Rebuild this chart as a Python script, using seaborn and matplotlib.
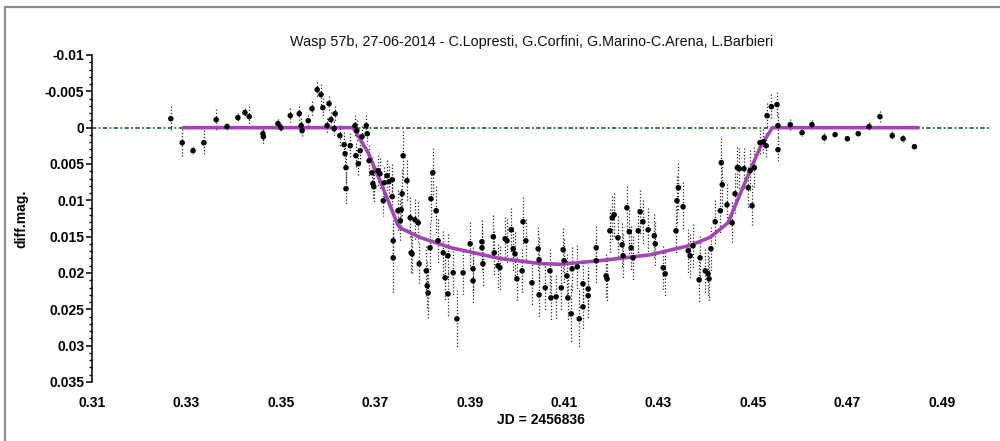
import numpy as np
import matplotlib
matplotlib.use("Agg")
import matplotlib.pyplot as plt
from matplotlib.lines import Line2D
from matplotlib.ticker import MultipleLocator
import seaborn as sns

# Observed differential photometry (JD - 2456836), with 1-sigma errors
jd = [
    0.3267, 0.3291, 0.3314, 0.3337, 0.3363, 0.3386, 0.3409, 0.3424, 0.3433, 0.3462,
    0.3463, 0.3494, 0.3500, 0.3520, 0.3539, 0.3543, 0.3545, 0.3558, 0.3566, 0.3577,
    0.3585, 0.3589, 0.3598, 0.3602, 0.3606, 0.3613, 0.3615, 0.3625, 0.3634, 0.3636,
    0.3638, 0.3638, 0.3647, 0.3657, 0.3659, 0.3661, 0.3664, 0.3668, 0.3672, 0.3681,
    0.3683, 0.3687, 0.3693, 0.3695, 0.3697, 0.3706, 0.3710, 0.3717, 0.3719, 0.3725,
    0.3729, 0.3736, 0.3736, 0.3738, 0.3738, 0.3748, 0.3753, 0.3755, 0.3757, 0.3759,
    0.3767, 0.3774, 0.3776, 0.3778, 0.3784, 0.3791, 0.3793, 0.3808, 0.3810, 0.3812,
    0.3816, 0.3818, 0.3822, 0.3829, 0.3833, 0.3844, 0.3848, 0.3854, 0.3854, 0.3865,
    0.3873, 0.3886, 0.3901, 0.3907, 0.3907, 0.3926, 0.3926, 0.3928, 0.3950, 0.3952,
    0.3960, 0.3964, 0.3975, 0.3979, 0.3988, 0.3992, 0.3996, 0.4000, 0.4011, 0.4013,
    0.4019, 0.4032, 0.4045, 0.4047, 0.4047, 0.4060, 0.4070, 0.4072, 0.4083, 0.4094,
    0.4098, 0.4100, 0.4106, 0.4108, 0.4115, 0.4117, 0.4128, 0.4132, 0.4140, 0.4140,
    0.4151, 0.4151, 0.4168, 0.4168, 0.4189, 0.4191, 0.4197, 0.4202, 0.4206, 0.4214,
    0.4223, 0.4225, 0.4233, 0.4238, 0.4242, 0.4246, 0.4257, 0.4261, 0.4267, 0.4278,
    0.4291, 0.4293, 0.4310, 0.4314, 0.4337, 0.4339, 0.4342, 0.4352, 0.4363, 0.4367,
    0.4373, 0.4386, 0.4388, 0.4399, 0.4405, 0.4407, 0.4411, 0.4420, 0.4431, 0.4433,
    0.4435, 0.4445, 0.4456, 0.4462, 0.4467, 0.4471, 0.4481, 0.4490, 0.4494, 0.4498,
    0.4503, 0.4515, 0.4522, 0.4528, 0.4530, 0.4539, 0.4551, 0.4553, 0.4553, 0.4579,
    0.4604, 0.4625, 0.4651, 0.4674, 0.4700, 0.4723, 0.4746, 0.4769, 0.4795, 0.4818,
    0.4842,
]
diff_mag = [
    -0.00124, 0.00207, 0.00317, 0.00207, -0.00110, -0.00014, -0.00138, -0.00207, -0.00152, 0.00083,
    0.00124, -0.00055, 0.00000, -0.00165, -0.00193, -0.00028, 0.00041, -0.00096, -0.00262, -0.00523,
    -0.00455, -0.00275, -0.00028, -0.00331, -0.00110, 0.00014, -0.00193, 0.00110, 0.00234, 0.00358,
    0.00551, 0.00840, 0.00248, -0.00028, 0.00386, 0.00041, 0.00496, 0.00317, 0.00124, -0.00028,
    0.00083, 0.00455, 0.00620, 0.00771, 0.00813, 0.00592, 0.00634, 0.01006, 0.00758, 0.00661,
    0.00744, 0.00716, 0.00950, 0.01556, 0.01791, 0.01143, 0.01281, 0.01129, 0.00909, 0.00386,
    0.00730, 0.01240, 0.01722, 0.01736, 0.01267, 0.01309, 0.01873, 0.01970, 0.02176, 0.02273,
    0.01653, 0.00978, 0.00620, 0.01143, 0.01556, 0.01722, 0.02066, 0.01763, 0.02287, 0.01997,
    0.02631, 0.01997, 0.01598, 0.02107, 0.01942, 0.01570, 0.01653, 0.01873, 0.01501, 0.01722,
    0.01901, 0.01928, 0.01529, 0.01556, 0.01405, 0.01667, 0.01736, 0.02080, 0.01970, 0.01295,
    0.01556, 0.02135, 0.01667, 0.01818, 0.02300, 0.02204, 0.01970, 0.02342, 0.02328, 0.02204,
    0.01680, 0.01832, 0.02039, 0.02342, 0.02562, 0.01942, 0.01915, 0.02631, 0.02149, 0.02466,
    0.02218, 0.02314, 0.01653, 0.01832, 0.02039, 0.02080, 0.01419, 0.01240, 0.01198, 0.01515,
    0.01612, 0.01763, 0.01102, 0.01432, 0.01653, 0.01791, 0.01419, 0.01157, 0.01295, 0.01405,
    0.01488, 0.01598, 0.01928, 0.02011, 0.01419, 0.01006, 0.00826, 0.01088, 0.01694, 0.01763,
    0.01625, 0.02094, 0.01791, 0.01970, 0.02011, 0.02080, 0.01667, 0.01295, 0.01143, 0.00482,
    0.00785, 0.01061, 0.01309, 0.00909, 0.00551, 0.00565, 0.00565, 0.00826, 0.00592, 0.01074,
    0.00551, 0.00207, 0.00193, 0.00248, -0.00165, -0.00289, -0.00317, -0.00028, 0.00303, -0.00041,
    0.00069, -0.00041, 0.00138, 0.00096, 0.00152, 0.00083, -0.00014, -0.00152, 0.00110, 0.00152,
    0.00262,
]
mag_err = [
    0.0017, 0.0019, 0.0005, 0.0018, 0.0014, 0.0005, 0.0007, 0.0007, 0.0014, 0.0011,
    0.0011, 0.0006, 0.0006, 0.0010, 0.0011, 0.0010, 0.0008, 0.0008, 0.0010, 0.0011,
    0.0014, 0.0014, 0.0011, 0.0011, 0.0011, 0.0011, 0.0011, 0.0014, 0.0017, 0.0017,
    0.0021, 0.0021, 0.0017, 0.0014, 0.0017, 0.0014, 0.0017, 0.0017, 0.0014, 0.0014,
    0.0014, 0.0021, 0.0021, 0.0021, 0.0021, 0.0021, 0.0021, 0.0021, 0.0021, 0.0021,
    0.0021, 0.0021, 0.0021, 0.0028, 0.0048, 0.0028, 0.0028, 0.0028, 0.0034, 0.0034,
    0.0028, 0.0028, 0.0028, 0.0028, 0.0028, 0.0028, 0.0028, 0.0034, 0.0034, 0.0034,
    0.0034, 0.0034, 0.0034, 0.0034, 0.0030, 0.0030, 0.0030, 0.0030, 0.0030, 0.0030,
    0.0040, 0.0030, 0.0030, 0.0030, 0.0030, 0.0030, 0.0030, 0.0030, 0.0030, 0.0030,
    0.0030, 0.0030, 0.0030, 0.0030, 0.0030, 0.0030, 0.0030, 0.0030, 0.0030, 0.0034,
    0.0030, 0.0030, 0.0030, 0.0030, 0.0030, 0.0030, 0.0030, 0.0030, 0.0030, 0.0030,
    0.0030, 0.0030, 0.0030, 0.0030, 0.0040, 0.0030, 0.0030, 0.0040, 0.0030, 0.0030,
    0.0030, 0.0030, 0.0030, 0.0030, 0.0030, 0.0030, 0.0030, 0.0030, 0.0030, 0.0030,
    0.0030, 0.0030, 0.0030, 0.0030, 0.0030, 0.0030, 0.0030, 0.0030, 0.0030, 0.0030,
    0.0030, 0.0030, 0.0030, 0.0030, 0.0034, 0.0034, 0.0034, 0.0034, 0.0030, 0.0030,
    0.0030, 0.0030, 0.0030, 0.0030, 0.0030, 0.0030, 0.0030, 0.0030, 0.0030, 0.0034,
    0.0034, 0.0028, 0.0028, 0.0028, 0.0028, 0.0028, 0.0028, 0.0028, 0.0028, 0.0028,
    0.0028, 0.0017, 0.0017, 0.0017, 0.0017, 0.0017, 0.0017, 0.0017, 0.0017, 0.0008,
    0.0005, 0.0007, 0.0007, 0.0004, 0.0004, 0.0004, 0.0007, 0.0008, 0.0007, 0.0005,
    0.0004,
]

# Fitted transit model
model_jd = [0.3293, 0.3653, 0.3685, 0.3710, 0.3748, 0.3753, 0.3795, 0.3859, 0.3964,
            0.4049, 0.4092, 0.4176, 0.4282, 0.4367, 0.4409, 0.4447, 0.4473, 0.4494,
            0.4515, 0.4541, 0.4850]
model_mag = [0.0, 0.0, 0.00344, 0.0073, 0.0134, 0.0138, 0.0151, 0.0165, 0.0180,
             0.0187, 0.0188, 0.0183, 0.0175, 0.0162, 0.0151, 0.0131, 0.0091, 0.0059,
             0.00275, 0.0, 0.0]

x_ticks = [0.31, 0.33, 0.35, 0.37, 0.39, 0.41, 0.43, 0.45, 0.47, 0.49]
x_tick_labels = ["0.31", "0.33", "0.35", "0.37", "0.39", "0.41", "0.43", "0.45", "0.47", "0.49"]
y_ticks = [-0.01, -0.005, 0.0, 0.005, 0.01, 0.015, 0.02, 0.025, 0.03, 0.035]
y_tick_labels = ["-0.01", "-0.005", "0", "0.005", "0.01", "0.015", "0.02", "0.025", "0.03", "0.035"]

title = "Wasp 57b, 27-06-2014 - C.Lopresti, G.Corfini, G.Marino-C.Arena, L.Barbieri"

sns.set_theme(style="white")
plt.rcParams["font.family"] = ["Liberation Sans", "DejaVu Sans"]

fig = plt.figure(figsize=(10, 4.41), dpi=100)
fig.patch.set_facecolor("white")
ax = fig.add_axes([0.092, 0.1338, 0.897, 0.7415])
ax.set_facecolor("white")

# zero reference line
ax.axhline(0.0, color="#2b6a34", lw=1.3, linestyle=(0, (2.4, 1.3, 1.0, 1.3)), zorder=1)

# dotted error bars
jd_a = np.asarray(jd)
mag_a = np.asarray(diff_mag)
err_a = np.asarray(mag_err)
ax.vlines(jd_a, mag_a - err_a, mag_a + err_a, colors="#2a2a2a",
          linestyles=(0, (1.0, 1.6)), linewidth=0.9, zorder=2)

# model curve
sns.lineplot(x=model_jd, y=model_mag, sort=False, estimator=None, color="#a444b6",
             lw=2.6, ax=ax, zorder=3)

# measurements
sns.scatterplot(x=jd, y=diff_mag, color="black", s=16, edgecolor="none",
                linewidth=0, ax=ax, zorder=4)

ax.set_xlim(0.31, 0.50)
ax.set_ylim(0.035, -0.01)

for side in ("top", "right", "bottom"):
    ax.spines[side].set_visible(False)
ax.spines["left"].set_color("black")
ax.spines["left"].set_linewidth(1.1)

ax.set_xticks(x_ticks, labels=x_tick_labels)
ax.set_yticks(y_ticks, labels=y_tick_labels)
ax.yaxis.set_minor_locator(MultipleLocator(0.001))
ax.tick_params(axis="x", length=0, pad=10, labelsize=10, colors="black")
ax.tick_params(axis="y", which="major", direction="out", length=4, width=1.1,
               pad=1.5, labelsize=10, colors="black", left=True)
ax.tick_params(axis="y", which="minor", direction="out", length=2.5, width=1.0,
               left=True, colors="black")
for lab in ax.get_xticklabels() + ax.get_yticklabels():
    lab.set_fontweight("bold")

ax.set_xlabel("JD = 2456836", fontsize=10, fontweight="bold", labelpad=2, color="black")
ax.set_ylabel("diff.mag.", fontsize=10, fontweight="bold", labelpad=12, color="black")
fig.text(0.532, 1 - 42 / 441, title, ha="center", va="center", fontsize=10.4, color="#111111")

# image frame along the top and left edges
frame_y = 1 - 7 / 441
fig.add_artist(Line2D([0.005, 1.0], [frame_y, frame_y], transform=fig.transFigure,
                      color="#8c8c8c", lw=1.6))
fig.add_artist(Line2D([0.005, 0.005], [0.0, frame_y], transform=fig.transFigure,
                      color="#8c8c8c", lw=1.6))

fig.savefig("out.png", dpi=100, facecolor="white")
